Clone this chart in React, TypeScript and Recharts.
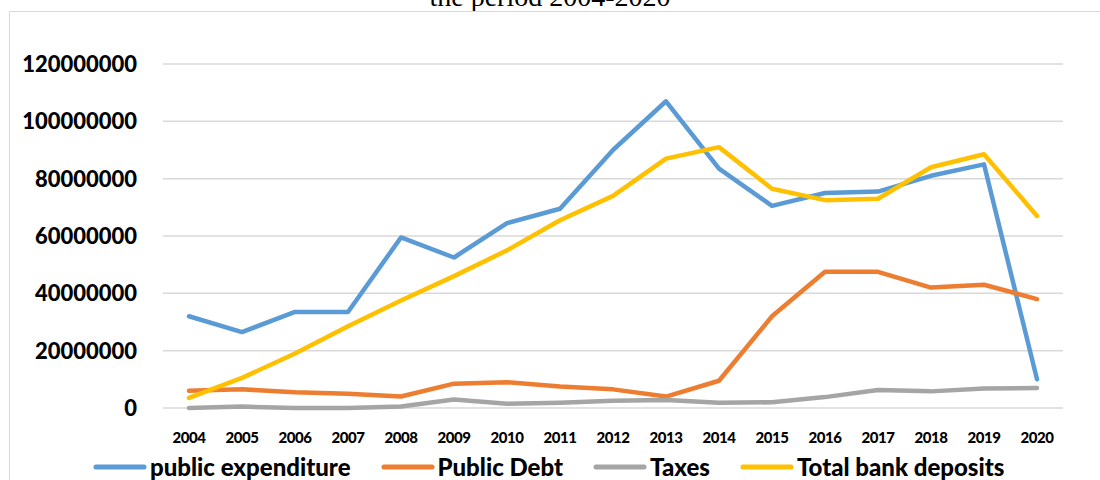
import React from "react";
import { LineChart, Line, XAxis, YAxis, CartesianGrid } from "recharts";

const years = [
  "2004", "2005", "2006", "2007", "2008", "2009", "2010", "2011", "2012",
  "2013", "2014", "2015", "2016", "2017", "2018", "2019", "2020",
];

// values (approximate)
const publicExpenditure = [
  32000000, 26500000, 33500000, 33500000, 59500000, 52500000, 64500000, 69500000, 90000000,
  107000000, 83500000, 70500000, 75000000, 75500000, 81000000, 85000000, 10000000,
];
const publicDebt = [
  6000000, 6500000, 5500000, 5000000, 4000000, 8500000, 9000000, 7500000, 6500000,
  4000000, 9500000, 32000000, 47500000, 47500000, 42000000, 43000000, 38000000,
];
const taxes = [
  0, 500000, 0, 0, 500000, 3000000, 1500000, 1800000, 2500000,
  2800000, 1800000, 2000000, 3800000, 6300000, 5800000, 6800000, 7000000,
];
const bankDeposits = [
  3500000, 10500000, 19000000, 28500000, 37500000, 46000000, 55000000, 65500000, 74000000,
  87000000, 91000000, 76500000, 72500000, 73000000, 84000000, 88500000, 67000000,
];

const yTicks = [0, 20000000, 40000000, 60000000, 80000000, 100000000, 120000000];

const series = [
  { key: "expenditure", name: "public expenditure", color: "#5B9BD5" },
  { key: "debt", name: "Public Debt", color: "#ED7D31" },
  { key: "taxes", name: "Taxes", color: "#A5A5A5" },
  { key: "deposits", name: "Total bank deposits", color: "#FFC000" },
];

const data = years.map((year, i) => ({
  year,
  expenditure: publicExpenditure[i],
  debt: publicDebt[i],
  taxes: taxes[i],
  deposits: bankDeposits[i],
}));

const FONT = "Lato, 'Open Sans', sans-serif";

function YTick(props: any) {
  const { x, y, payload } = props;
  return (
    <text x={x} y={y} dy="0.36em" textAnchor="end" fontFamily={FONT} fontWeight={900} fontSize={22} fill="#000">
      {payload.value}
    </text>
  );
}

function XTick(props: any) {
  const { x, y, payload } = props;
  return (
    <text x={x} y={y + 28} dy="0.36em" textAnchor="middle" fontFamily={FONT} fontWeight={900} fontSize={15} letterSpacing={-0.5} fill="#000">
      {payload.value}
    </text>
  );
}

export default function App() {
  return (
    <div style={{ position: "absolute", left: 0, top: 0, width: 1100, height: 480, overflow: "hidden", background: "#fff" }}>
      <div
        style={{
          position: "absolute",
          top: -17,
          left: 0,
          width: 1100,
          textAlign: "center",
          fontFamily: "'Liberation Serif', 'Times New Roman', serif",
          fontSize: 28,
          lineHeight: "28px",
          color: "#000",
        }}
      >
        the period 2004-2020
      </div>
      <div
        style={{
          position: "absolute",
          left: 9,
          top: 11,
          width: 1200,
          height: 600,
          border: "1.5px solid #d9d9d9",
        }}
      />
      <div style={{ position: "absolute", left: 0, top: 0 }}>
        <LineChart width={1100} height={480} data={data} margin={{ top: 64, right: 37, bottom: 42, left: 0 }}>
          <CartesianGrid vertical={false} stroke="#d9d9d9" strokeWidth={1.5} />
          <XAxis
            dataKey="year"
            height={30}
            axisLine={false}
            tickLine={false}
            tickSize={0}
            interval={0}
            padding={{ left: 26, right: 26 }}
            tick={<XTick />}
          />
          <YAxis
            width={163}
            domain={[0, 120000000]}
            ticks={yTicks}
            axisLine={false}
            tickLine={false}
            tickSize={0}
            tickMargin={26}
            tick={<YTick />}
          />
          {series.map((s) => (
            <Line
              key={s.key}
              type="linear"
              dataKey={s.key}
              name={s.name}
              stroke={s.color}
              strokeWidth={4.5}
              strokeLinejoin="round"
              strokeLinecap="round"
              dot={false}
              activeDot={false}
              isAnimationActive={false}
            />
          ))}
        </LineChart>
      </div>
      <div
        style={{
          position: "absolute",
          top: 453,
          left: 93,
          display: "flex",
          alignItems: "center",
          fontFamily: FONT,
          fontWeight: 900,
          fontSize: 24,
          lineHeight: "28px",
          color: "#000",
          whiteSpace: "nowrap",
        }}
      >
        {series.map((s, i) => (
          <div key={s.key} style={{ display: "flex", alignItems: "center", marginRight: i < series.length - 1 ? 30 : 0 }}>
            <svg width={54} height={8} style={{ marginRight: 3 }}>
              <line x1={3} y1={4} x2={51} y2={4} stroke={s.color} strokeWidth={5} strokeLinecap="round" />
            </svg>
            <span>{s.name}</span>
          </div>
        ))}
      </div>
    </div>
  );
}
